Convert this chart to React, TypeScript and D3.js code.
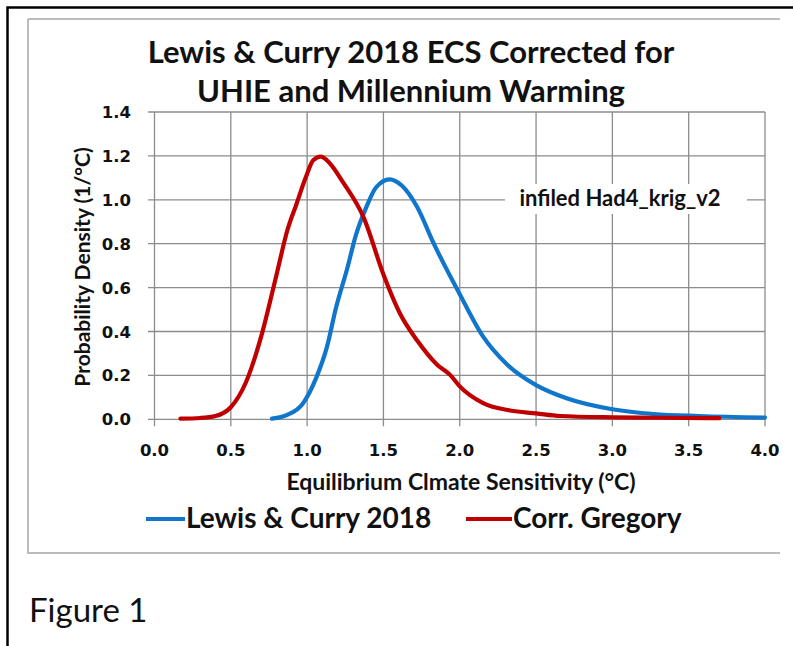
import * as d3 from 'd3';

// Corr. Gregory (red)
const redX = [0.17, 0.3, 0.4, 0.5, 0.6, 0.7, 0.8, 0.87, 0.93, 0.99, 1.04, 1.09, 1.13, 1.24, 1.37, 1.5, 1.61, 1.72, 1.85, 1.94, 2.0, 2.15, 2.33, 2.5, 2.66, 3.0, 3.3, 3.7];
const redY = [0.003, 0.006, 0.015, 0.055, 0.17, 0.38, 0.66, 0.86, 0.98, 1.1, 1.18, 1.197, 1.18, 1.075, 0.92, 0.66, 0.48, 0.36, 0.25, 0.2, 0.15, 0.075, 0.04, 0.027, 0.015, 0.009, 0.007, 0.005];

// Lewis & Curry 2018 (blue)
const blueX = [0.77, 0.87, 0.97, 1.06, 1.13, 1.19, 1.26, 1.32, 1.39, 1.45, 1.54, 1.62, 1.72, 1.83, 2.0, 2.15, 2.31, 2.5, 2.7, 3.0, 3.27, 3.57, 4.0];
const blueY = [0.003, 0.02, 0.07, 0.19, 0.33, 0.51, 0.68, 0.84, 0.97, 1.055, 1.093, 1.065, 0.968, 0.8, 0.57, 0.38, 0.25, 0.156, 0.096, 0.046, 0.024, 0.015, 0.008];

const xTicks = [0, 0.5, 1, 1.5, 2, 2.5, 3, 3.5, 4];
const yTicks = [0, 0.2, 0.4, 0.6, 0.8, 1.0, 1.2, 1.4];

const titleLines = ['Lewis & Curry 2018 ECS Corrected for', 'UHIE and Millennium Warming'];
const seriesNames = ['Lewis & Curry 2018', 'Corr. Gregory'];

const BLUE = '#0f76cc';
const RED = '#c00000';
const GRID = '#8c8c8c';

export default function App() {
  const x = d3.scaleLinear().domain([0, 4]).range([154.5, 765]);
  const y = d3.scaleLinear().domain([0, 1.4]).range([419.3, 112]);

  const line = d3
    .line<[number, number]>()
    .x((d) => x(d[0]))
    .y((d) => y(d[1]))
    .curve(d3.curveMonotoneX);

  const red = redX.map((v, i) => [v, redY[i]] as [number, number]);
  const blue = blueX.map((v, i) => [v, blueY[i]] as [number, number]);

  const tickFont = { fontFamily: 'DejaVu Sans', fontWeight: 700, fontSize: 16.5 };
  const calibri = 'Lato, "Open Sans", sans-serif';

  return (
    <div style={{ position: 'fixed', left: 0, top: 0 }}>
      <svg width={793} height={646} style={{ display: 'block', background: '#fff' }}>
        {/* page borders */}
        <path d="M7.5,646 V7.5 H793" fill="none" stroke="#000" strokeWidth={2.5} />
        <path d="M28,19 H780 M28,19 V553 H780" fill="none" stroke="#a6a6a6" strokeWidth={1.5} />

        {/* title */}
        {titleLines.map((t, i) => (
          <text key={t} x={411} y={63 + i * 39} textAnchor="middle" fontFamily={calibri} fontWeight={700} fontSize={31} fill="#111">
            {t}
          </text>
        ))}

        {/* grid */}
        {yTicks.map((t) => (
          <line key={'h' + t} x1={148} x2={x(4)} y1={y(t)} y2={y(t)} stroke={GRID} strokeWidth={1.3} />
        ))}
        {xTicks.map((t) => (
          <line key={'v' + t} x1={x(t)} x2={x(t)} y1={y(1.4)} y2={y(0) + 7} stroke={GRID} strokeWidth={1.3} />
        ))}

        {/* tick labels */}
        {yTicks.map((t) => (
          <text key={'yl' + t} x={131} y={y(t) + 6} textAnchor="end" {...tickFont} fill="#111">
            {d3.format('.1f')(t)}
          </text>
        ))}
        {xTicks.map((t) => (
          <text key={'xl' + t} x={x(t)} y={456} textAnchor="middle" {...tickFont} fill="#111">
            {d3.format('.1f')(t)}
          </text>
        ))}

        {/* axis titles */}
        <text x={461} y={490} textAnchor="middle" fontFamily={calibri} fontWeight={700} fontSize={23} fill="#111">
          Equilibrium Clmate Sensitivity (°C)
        </text>
        <text transform="translate(90,267) rotate(-90)" textAnchor="middle" fontFamily={calibri} fontWeight={700} fontSize={21} fill="#111">
          Probability Density (1/°C)
        </text>

        {/* annotation */}
        <rect x={505} y={184} width={242} height={30} fill="#fff" />
        <text x={620} y={206} textAnchor="middle" fontFamily={calibri} fontWeight={700} fontSize={22} fill="#111">
          infiled Had4_krig_v2
        </text>

        {/* curves */}
        <path d={line(blue) ?? ''} fill="none" stroke={BLUE} strokeWidth={4.2} strokeLinejoin="round" strokeLinecap="round" />
        <path d={line(red) ?? ''} fill="none" stroke={RED} strokeWidth={4.2} strokeLinejoin="round" strokeLinecap="round" />

        {/* legend */}
        <line x1={146} x2={185} y1={519} y2={519} stroke={BLUE} strokeWidth={4} />
        <text x={186} y={528} fontFamily={calibri} fontWeight={700} fontSize={28} fill="#111">
          {seriesNames[0]}
        </text>
        <line x1={466} x2={512} y1={519} y2={519} stroke={RED} strokeWidth={4} />
        <text x={513} y={528} fontFamily={calibri} fontWeight={700} fontSize={28} fill="#111">
          {seriesNames[1]}
        </text>

        {/* caption */}
        <text x={29} y={622} fontFamily={calibri} fontSize={33} fill="#111">
          Figure 1
        </text>
      </svg>
    </div>
  );
}
